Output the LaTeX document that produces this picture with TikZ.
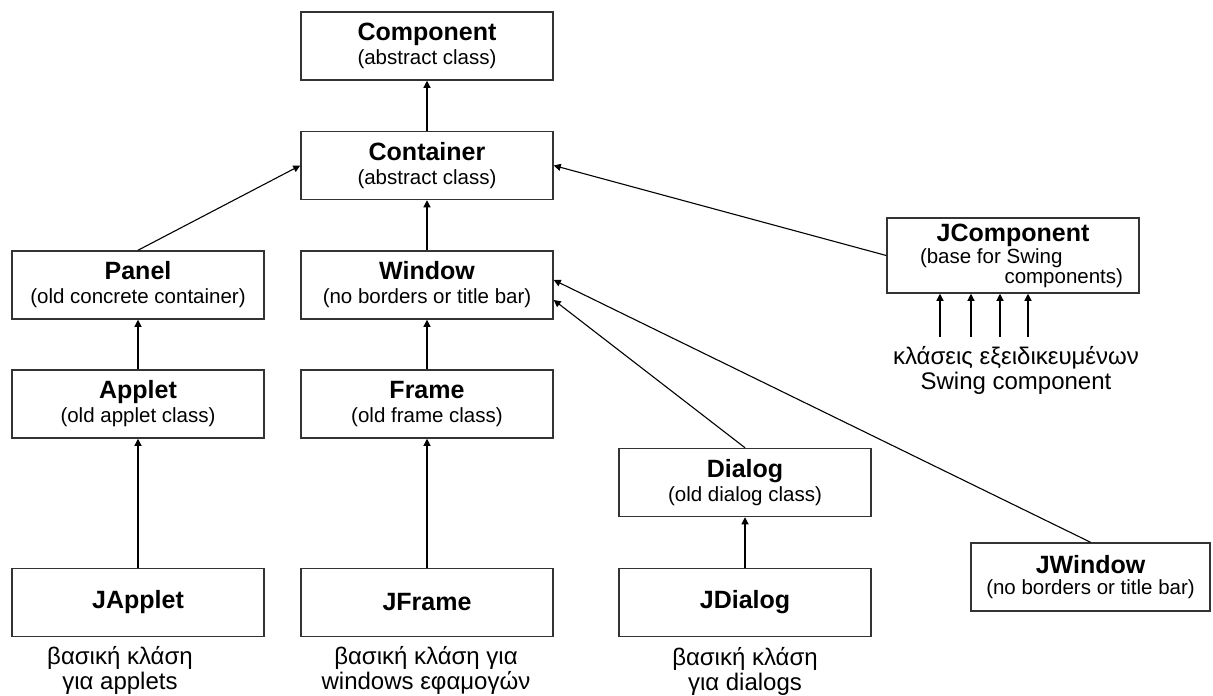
\documentclass[tikz,border=0pt]{standalone}
\usepackage{fontspec}
\setmainfont{Liberation Sans}
\usetikzlibrary{arrows.meta,calc}

\newcommand{\ttl}{\fontsize{25}{24}\selectfont\bfseries}
\newcommand{\sbt}{\fontsize{20.5}{24}\selectfont}
\newcommand{\cls}[2]{{\ttl #1}\\(#2)}

\begin{document}
\begin{tikzpicture}[x=1pt,y=-1pt,
 cls/.style={draw=black!80,line width=1.5pt,fill=white,minimum width=252pt,
  minimum height=68pt,inner sep=0pt,align=center,font=\sbt},
 arr/.style={-{Triangle[length=7pt,width=7pt]},line width=1.1pt,black},
 note/.style={font={\fontsize{24}{25}\selectfont},align=center,inner sep=0pt}]
\useasboundingbox (0,0) rectangle (1213,696);
% middle column
\node[cls] (comp) at (427,46) {\cls{Component}{abstract class}};
\node[cls] (cont) at (427,165.5) {\cls{Container}{abstract class}};
\node[cls] (win) at (427,285) {\cls{Window}{no borders or title bar}};
\node[cls] (frame) at (427,404) {\cls{Frame}{old frame class}};
\node[cls] (jframe) at (427,602.5) {{\ttl JFrame}};
% left column
\node[cls] (panel) at (138,285) {\cls{Panel}{old concrete container}};
\node[cls] (applet) at (138,404) {\cls{Applet}{old applet class}};
\node[cls] (japplet) at (138,602.5) {{\ttl JApplet}};
% dialogs and swing
\node[cls] (dialog) at (745,482.5) {\cls{Dialog}{old dialog class}};
\node[cls] (jdialog) at (745,602.5) {{\ttl JDialog}};
\node[cls,minimum width=239pt] (jwin) at (1090.5,577) {{\ttl JWindow}\\[-3pt](no borders or title bar)};
\node[cls,minimum height=75pt] (jcomp) at (1013,255.5) {{\ttl JComponent}\\[-2pt]
 \makebox[220pt][l]{\hspace*{17pt}(base for Swing}\\[-4pt]
 \makebox[220pt][r]{components)}};
% greek notes
\node[note] (ja-txt) at (120,670.5) {βασική κλάση\\για applets};
\node[note] (jf-txt) at (426,670.5) {βασική κλάση για\\windows εφαμογών};
\node[note] (jd-txt) at (745,671) {βασική κλάση\\για dialogs};
\node[note,inner ysep=9pt] (swing) at (1016,370) {κλάσεις εξειδικευμένων\\Swing component};
% inheritance
\draw[arr] (cont) -- (comp);
\draw[arr] (win) -- (cont);
\draw[arr] (frame) -- (win);
\draw[arr] (jframe) -- (frame);
\draw[arr] (applet) -- (panel);
\draw[arr] (japplet) -- (applet);
\draw[arr] (jdialog) -- (dialog);
\draw[arr] (panel.north) -- (cont.west);
\draw[arr] (jcomp.west) -- (cont.east);
\draw[arr] (dialog.north) -- ($(win.east)+(0,15)$);
\draw[arr] (jwin.north) -- ($(win.east)+(0,-5)$);
\foreach \dx in {-73,-42,-13,15}
 \draw[arr] ([xshift=\dx]jcomp.south |- swing.north) -- ([xshift=\dx]jcomp.south);
\end{tikzpicture}
\end{document}
